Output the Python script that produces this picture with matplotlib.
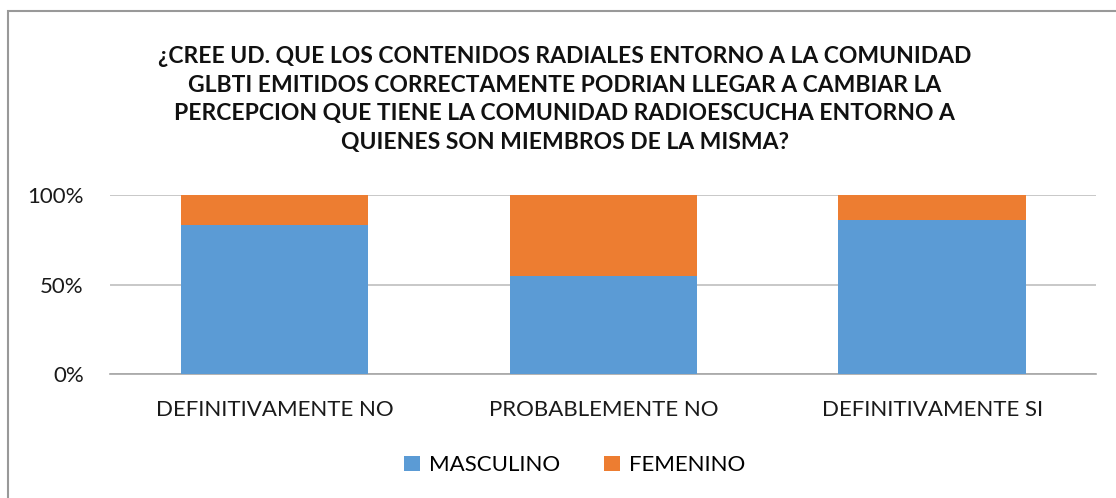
import matplotlib as mpl
mpl.use('Agg')
import matplotlib.pyplot as plt
from matplotlib.patches import Rectangle
import numpy as np

categorias = ['DEFINITIVAMENTE NO', 'PROBABLEMENTE NO', 'DEFINITIVAMENTE SI']
masculino = [83.3, 55.0, 86.0]
femenino = [16.7, 45.0, 14.0]
titulo = ('¿CREE UD. QUE LOS CONTENIDOS RADIALES ENTORNO A LA COMUNIDAD\n'
          'GLBTI EMITIDOS CORRECTAMENTE PODRIAN LLEGAR A CAMBIAR LA\n'
          'PERCEPCION QUE TIENE LA COMUNIDAD RADIOESCUCHA ENTORNO A\n'
          'QUIENES SON MIEMBROS DE LA MISMA?')

plt.rcParams['font.family'] = ['Lato', 'DejaVu Sans']

fig = plt.figure(figsize=(11.16, 4.98), dpi=100)
# only the left and top edges of the chart border are visible (cropped picture)
fig.patches.append(Rectangle((7.5 / 1116, -0.05), 1.2, 1 - 11.5 / 498 + 0.05,
                             transform=fig.transFigure, fill=False,
                             edgecolor='#999999', linewidth=1.5))
ax = fig.add_axes([0.0986, 0.249, 0.8839, 0.3594])

x = np.arange(len(categorias))
ax.bar(x, masculino, width=0.57, color='#5b9bd5', label='MASCULINO', zorder=3)
ax.bar(x, femenino, width=0.57, bottom=masculino, color='#ed7d31', label='FEMENINO', zorder=3)

ax.set_xlim(-0.5, 2.5)
ax.set_ylim(0, 100)
ax.set_yticks([0, 50, 100])
ax.set_yticklabels(['0%', '50%', '100%'])
ax.set_xticks(x)
ax.set_xticklabels(categorias)
ax.tick_params(length=0, labelsize=16, colors='#1a1a1a')
ax.tick_params(axis='y', pad=19)
ax.tick_params(axis='x', pad=19)
ax.grid(axis='y', color='#bfbfbf', linewidth=1.2, zorder=0)
for s in ['top', 'right', 'left']:
    ax.spines[s].set_visible(False)
ax.spines['bottom'].set_color('#a6a6a6')
ax.spines['bottom'].set_linewidth(1.2)

fig.text(0.506, 0.800, titulo, ha='center', va='center', fontsize=16.5,
         fontweight='bold', linespacing=1.45, color='#111111')

fig.legend(loc='center', bbox_to_anchor=(0.515, 0.066), ncol=2, frameon=False,
           fontsize=16, handlelength=0.7, handleheight=0.7, columnspacing=2.0,
           handletextpad=0.4)

fig.savefig('out.png', dpi=100)
